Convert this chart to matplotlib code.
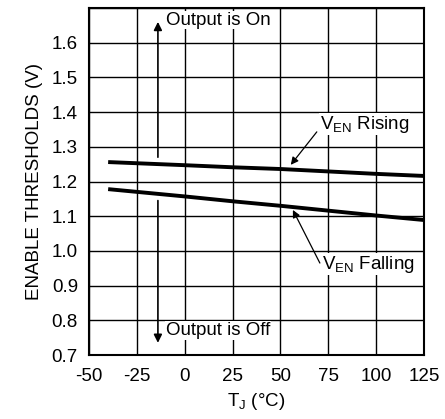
import numpy as np
import matplotlib
matplotlib.use('Agg')
import matplotlib.pyplot as plt

plt.rcParams['font.family'] = ['Liberation Sans', 'DejaVu Sans']
plt.rcParams['axes.unicode_minus'] = False

# junction temperature (C) and enable thresholds (V)
temp = [-40, 0, 25, 50, 75, 100, 125]
ven_rising = [1.256, 1.247, 1.241, 1.236, 1.229, 1.222, 1.216]
ven_falling = [1.178, 1.157, 1.143, 1.130, 1.116, 1.102, 1.089]

xticks = [-50, -25, 0, 25, 50, 75, 100, 125]
yticks = [0.7, 0.8, 0.9, 1.0, 1.1, 1.2, 1.3, 1.4, 1.5, 1.6, 1.7]
ylabels = ['0.7', '0.8', '0.9', '1.0', '1.1', '1.2', '1.3', '1.4', '1.5', '1.6', '']

fs = 13.5

fig = plt.figure(figsize=(4.45, 4.19), dpi=100)
ax = fig.add_axes([89/445, 1 - 355/419, 335/445, 347/419])

ax.plot(temp, ven_rising, color='black', lw=2.8, solid_capstyle='butt')
ax.plot(temp, ven_falling, color='black', lw=2.8, solid_capstyle='butt')

ax.set_xlim(-50, 125)
ax.set_ylim(0.7, 1.7)
ax.set_xticks(xticks)
ax.set_yticks(yticks)
ax.set_yticklabels(ylabels)
ax.tick_params(length=0, labelsize=fs, colors='black')
ax.tick_params(axis='x', pad=9)
ax.tick_params(axis='y', pad=8)
ax.grid(True, color='black', lw=1.0)
ax.set_axisbelow(True)
for s in ax.spines.values():
    s.set_linewidth(1.5)

ax.set_xlabel('T$_\\mathregular{J}$ (°C)', fontsize=fs, labelpad=5)
ax.set_ylabel('ENABLE THRESHOLDS (V)', fontsize=fs, labelpad=6)

box = dict(facecolor='white', edgecolor='none', pad=0.5)
arr = dict(arrowstyle='-|>', color='black', lw=1.2, mutation_scale=12, shrinkA=0, shrinkB=0)

# output on / off arrows
ax.annotate('', xy=(-14, 1.66), xytext=(-14, 1.27), arrowprops=arr)
ax.text(-10, 1.665, 'Output is On', fontsize=fs, va='center', ha='left', bbox=box)
ax.annotate('', xy=(-14, 0.735), xytext=(-14, 1.145), arrowprops=arr)
ax.text(-10, 0.77, 'Output is Off', fontsize=fs, va='center', ha='left', bbox=box)

# curve labels
arr2 = dict(arrowstyle='-|>', color='black', lw=0.9, mutation_scale=11, shrinkA=0, shrinkB=0)
ax.annotate('', xy=(55.4, 1.248), xytext=(69, 1.343), arrowprops=arr2)
ax.text(70.5, 1.365, 'V$_\\mathregular{EN}$ Rising', fontsize=fs, va='center', ha='left', bbox=box)
ax.annotate('', xy=(56.5, 1.118), xytext=(70.6, 0.965), arrowprops=arr2)
ax.text(71.5, 0.962, 'V$_\\mathregular{EN}$ Falling', fontsize=fs, va='center', ha='left', bbox=box)

fig.savefig('out.png', dpi=100)
